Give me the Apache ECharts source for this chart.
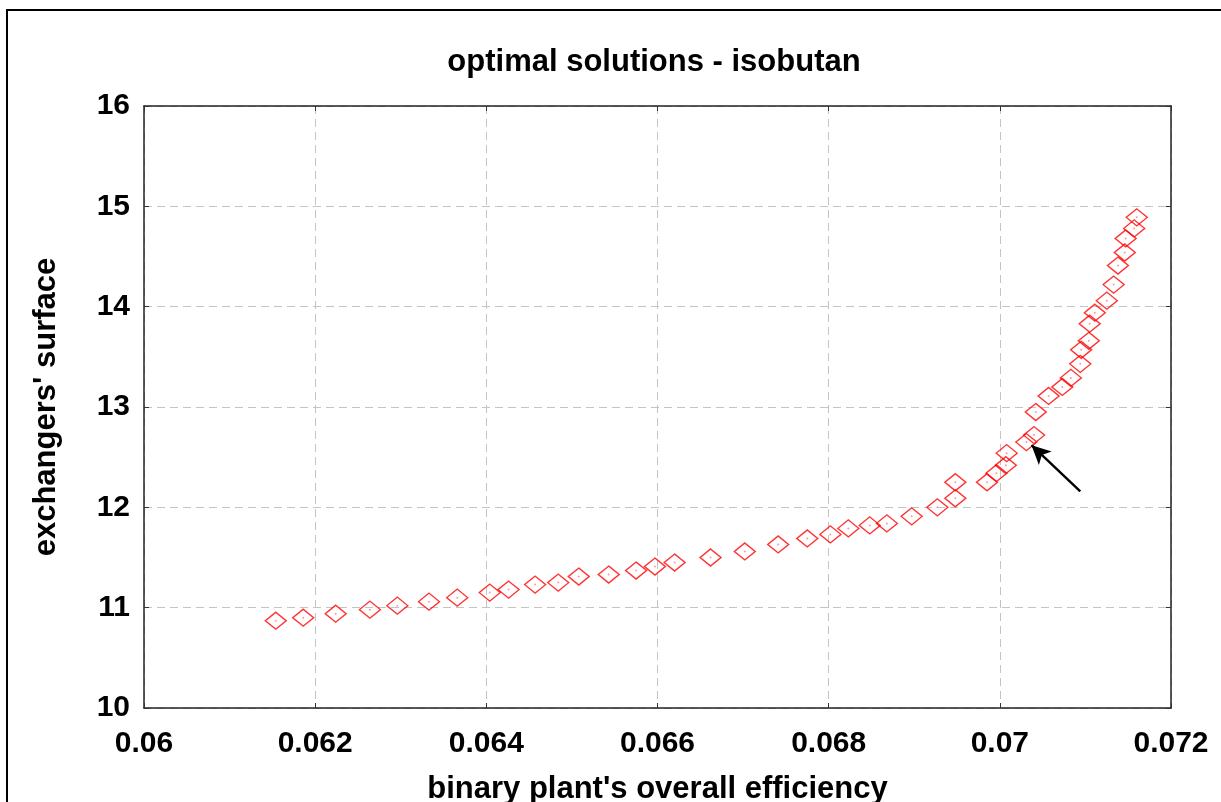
<!DOCTYPE html>
<html>
<head>
<meta charset="utf-8">
<script src="https://cdn.jsdelivr.net/npm/echarts@6/dist/echarts.min.js"></script>
<style>
  html, body { margin: 0; padding: 0; background: #fff; }
  #chart { width: 1221px; height: 802px; }
</style>
</head>
<body>
<div id="chart"></div>
<script>
// efficiency (x) and surface (y) of the optimal solutions
const efficiency = [
  0.06154, 0.06186, 0.06224, 0.06264, 0.06296, 0.06333, 0.06366, 0.06404, 0.06426, 0.06457,
  0.06484, 0.06508, 0.06543, 0.06575, 0.06597, 0.0662, 0.06662, 0.06702, 0.06741, 0.06775,
  0.06802, 0.06823, 0.06848, 0.06868, 0.06897, 0.06927, 0.06948, 0.06948, 0.06985, 0.06996,
  0.07007, 0.07008, 0.07031, 0.0704, 0.07042, 0.07057, 0.07073, 0.07083, 0.07094, 0.07095,
  0.07104, 0.07105, 0.07111, 0.07125, 0.07133, 0.07138, 0.07146, 0.07147, 0.07157, 0.0716
];
const surface = [
  10.87, 10.90, 10.94, 10.98, 11.02, 11.06, 11.10, 11.15, 11.18, 11.23,
  11.25, 11.31, 11.33, 11.37, 11.41, 11.45, 11.50, 11.56, 11.63, 11.69,
  11.73, 11.79, 11.82, 11.84, 11.91, 12.00, 12.09, 12.25, 12.25, 12.34,
  12.42, 12.54, 12.65, 12.72, 12.95, 13.11, 13.20, 13.29, 13.43, 13.57,
  13.66, 13.83, 13.94, 14.06, 14.22, 14.41, 14.54, 14.68, 14.78, 14.89
];
// arrow annotation: [tail, head] in data units
const arrowFrom = [0.07094, 12.16];
const arrowTo = [0.07037, 12.62];

const font = 'Liberation Sans, Arial, sans-serif';
const points = efficiency.map((x, i) => [x, surface[i]]);

const chart = echarts.init(document.getElementById('chart'));

const gridLine = { show: true, lineStyle: { color: '#c4c4c4', type: [8, 5], width: 1 } };
const border = { show: true, lineStyle: { color: '#222', width: 1.5 } };
const tick = { show: true, inside: true, length: 5, lineStyle: { color: '#333' } };

chart.setOption({
  animation: false,
  backgroundColor: '#fff',
  title: {
    text: 'optimal solutions - isobutan',
    left: 649, top: 42, textAlign: 'center',
    textStyle: { fontFamily: font, fontWeight: 'bold', fontSize: 31, color: '#000' }
  },
  graphic: [{
    type: 'rect',
    shape: { x: 7, y: 10, width: 1400, height: 1000 },
    style: { fill: 'none', stroke: '#000', lineWidth: 2 },
    silent: true
  }],
  grid: { left: 144, top: 106, right: 50, bottom: 94, outerBoundsMode: 'none', containLabel: false },
  xAxis: [{
    type: 'value', min: 0.06, max: 0.072, interval: 0.002,
    name: "binary plant's overall efficiency",
    nameLocation: 'middle', nameGap: 66,
    nameTextStyle: { fontFamily: font, fontWeight: 'bold', fontSize: 31, color: '#000' },
    axisLine: border, axisTick: tick, splitLine: gridLine,
    axisLabel: { fontFamily: font, fontWeight: 'bold', fontSize: 30, color: '#000', margin: 21 }
  }, {
    type: 'value', position: 'top', min: 0.06, max: 0.072, interval: 0.002,
    axisLine: border, axisTick: tick, splitLine: { show: false }, axisLabel: { show: false }
  }],
  yAxis: [{
    type: 'value', min: 10, max: 16, interval: 1,
    name: "exchangers' surface",
    nameLocation: 'middle', nameGap: 82,
    nameTextStyle: { fontFamily: font, fontWeight: 'bold', fontSize: 31, color: '#000' },
    axisLine: border, axisTick: tick, splitLine: gridLine,
    axisLabel: { fontFamily: font, fontWeight: 'bold', fontSize: 30, color: '#000', margin: 14 }
  }, {
    type: 'value', position: 'right', min: 10, max: 16, interval: 1,
    axisLine: border, axisTick: tick, splitLine: { show: false }, axisLabel: { show: false }
  }],
  series: [{
    type: 'scatter',
    data: points,
    symbol: 'diamond',
    symbolSize: [21, 17],
    itemStyle: { color: 'rgba(0,0,0,0)', borderColor: '#ff0000', borderWidth: 1.4 },
    markLine: {
      silent: true,
      symbol: ['none', 'arrow'],
      symbolSize: [14, 19],
      label: { show: false },
      lineStyle: { color: '#000', width: 2.4, type: 'solid' },
      data: [[{ coord: arrowFrom }, { coord: arrowTo }]]
    }
  }, {
    type: 'scatter',
    data: points,
    symbol: 'circle',
    symbolSize: 2,
    itemStyle: { color: '#ff8080' },
    silent: true
  }]
});
</script>
</body>
</html>
